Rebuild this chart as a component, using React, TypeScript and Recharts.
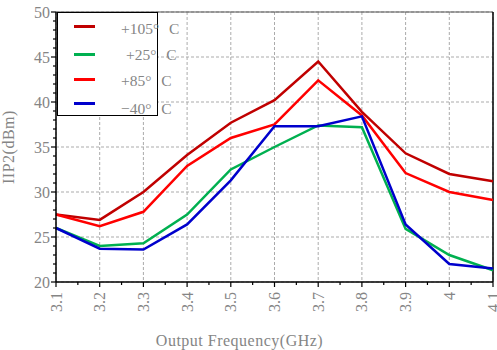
import { LineChart, Line, XAxis, YAxis, CartesianGrid, Legend, ReferenceLine } from "recharts"

const FREQS = [3.1, 3.2, 3.3, 3.4, 3.5, 3.6, 3.7, 3.8, 3.9, 4, 4.1]
const T105 = [27.5, 26.9, 30.0, 34.1, 37.7, 40.2, 44.5, 38.9, 34.3, 32.0, 31.2]
const T25 = [26.0, 24.0, 24.3, 27.5, 32.5, 35.0, 37.4, 37.2, 25.9, 23.0, 21.3]
const T85 = [27.5, 26.2, 27.8, 32.9, 36.0, 37.5, 42.4, 38.5, 32.1, 30.0, 29.1]
const TM40 = [26.0, 23.7, 23.6, 26.4, 31.3, 37.3, 37.3, 38.4, 26.4, 22.0, 21.5]

const Y_MAJOR = [20, 25, 30, 35, 40, 45, 50]
const Y_TICKS = Array.from({ length: 31 }, (_, i) => 20 + i)
const X_TICKS = FREQS.flatMap((f, i) => (i < FREQS.length - 1 ? [f, (f + FREQS[i + 1]) / 2] : [f]))

const SERIES = [
  { key: "t105", name: "+105° C", color: "#C00000", values: T105 },
  { key: "t25", name: "+25° C", color: "#00B050", values: T25 },
  { key: "t85", name: "+85° C", color: "#FF0000", values: T85 },
  { key: "tm40", name: "−40° C", color: "#0000CC", values: TM40 },
]

const data = FREQS.map((f, i) => {
  const row: Record<string, number> = { freq: f }
  SERIES.forEach((s) => (row[s.key] = s.values[i]))
  return row
})

const FONT = "'Liberation Serif', serif"
const GRAY = "#858585"

function YTick({ x, y, payload }: any) {
  const major = Y_MAJOR.includes(payload.value)
  return (
    <g>
      <line x1={x - (major ? 5 : 3)} x2={x} y1={y} y2={y} stroke="#000" strokeWidth={1.2} />
      {major && (
        <text x={x - 6} y={y} textAnchor="end" dominantBaseline="central" fontFamily={FONT} fontSize={16} fill={GRAY}>
          {payload.value}
        </text>
      )}
    </g>
  )
}

function XTick({ x, y, payload }: any) {
  const major = FREQS.includes(payload.value)
  return (
    <g>
      <line x1={x} x2={x} y1={y} y2={y + (major ? 5 : 3)} stroke="#000" strokeWidth={1.2} />
      {major && (
        <text
          x={x}
          y={y + 10}
          transform={`rotate(-90 ${x} ${y + 10})`}
          textAnchor="end"
          dominantBaseline="central"
          fontFamily={FONT}
          fontSize={16}
          fill={GRAY}
        >
          {String(payload.value)}
        </text>
      )}
    </g>
  )
}

// legend rows: line sample y and text centre y inside the box
const LEGEND_ROWS = [
  { lineY: 12, textY: 16, textX: 63 },
  { lineY: 40, textY: 42, textX: 68 },
  { lineY: 65, textY: 68, textX: 63 },
  { lineY: 89, textY: 96, textX: 63 },
]

function LegendBox() {
  return (
    <div style={{ position: "relative", width: 101, height: 104, border: "1.5px solid #000", background: "#fff", boxSizing: "border-box" }}>
      {SERIES.map((s, i) => {
        const [head, tail] = s.name.split("° ")
        return (
          <div key={s.key}>
            <div style={{ position: "absolute", left: 16, top: LEGEND_ROWS[i].lineY, width: 21, height: 3, background: s.color }} />
            <div
              style={{
                position: "absolute",
                left: LEGEND_ROWS[i].textX,
                top: LEGEND_ROWS[i].textY - 9,
                lineHeight: "18px",
                fontFamily: FONT,
                fontSize: 15.5,
                color: GRAY,
                whiteSpace: "nowrap",
              }}
            >
              {head}
              <span style={{ marginRight: 6 }}>°</span> {tail}
            </div>
          </div>
        )
      })}
    </div>
  )
}

export default function App() {
  return (
    <div style={{ position: "absolute", left: 0, top: 0, width: 497, height: 350, background: "#fff" }}>
      <LineChart width={497} height={350} data={data} margin={{ top: 12, right: 4, bottom: 0, left: 0 }}>
        <CartesianGrid stroke="#ababab" strokeDasharray="3 2" horizontalValues={Y_MAJOR} verticalValues={FREQS} />
        <XAxis
          dataKey="freq"
          type="number"
          domain={[3.1, 4.1]}
          ticks={X_TICKS}
          interval={0}
          height={68}
          tickSize={0}
          tickMargin={0}
          tickLine={false}
          tick={<XTick />}
          axisLine={{ stroke: "#000", strokeWidth: 1.5 }}
          label={{ value: "Output Frequency(GHz)", position: "insideBottom", offset: 4, dx: -35, fontFamily: FONT, fontSize: 16, fill: GRAY, letterSpacing: 0.5 }}
        />
        <YAxis
          type="number"
          domain={[20, 50]}
          ticks={Y_TICKS}
          interval={0}
          width={56}
          tickSize={0}
          tickMargin={0}
          tickLine={false}
          tick={<YTick />}
          axisLine={{ stroke: "#000", strokeWidth: 1.5 }}
          label={{ value: "IIP2(dBm)", angle: -90, position: "insideLeft", offset: 8, dy: 37, fontFamily: FONT, fontSize: 16, fill: GRAY, letterSpacing: 0.5 }}
        />
        <ReferenceLine y={50} stroke="#555" strokeWidth={1.2} />
        <ReferenceLine x={4.1} stroke="#000" strokeWidth={1.5} />
        {SERIES.map((s) => (
          <Line
            key={s.key}
            dataKey={s.key}
            name={s.name}
            stroke={s.color}
            strokeWidth={2.5}
            dot={false}
            activeDot={false}
            isAnimationActive={false}
          />
        ))}
        <Legend
          layout="horizontal"
          verticalAlign="middle"
          align="center"
          content={<LegendBox />}
          wrapperStyle={{ left: 57, top: 12, width: 101, height: 104 }}
        />
      </LineChart>
    </div>
  )
}
